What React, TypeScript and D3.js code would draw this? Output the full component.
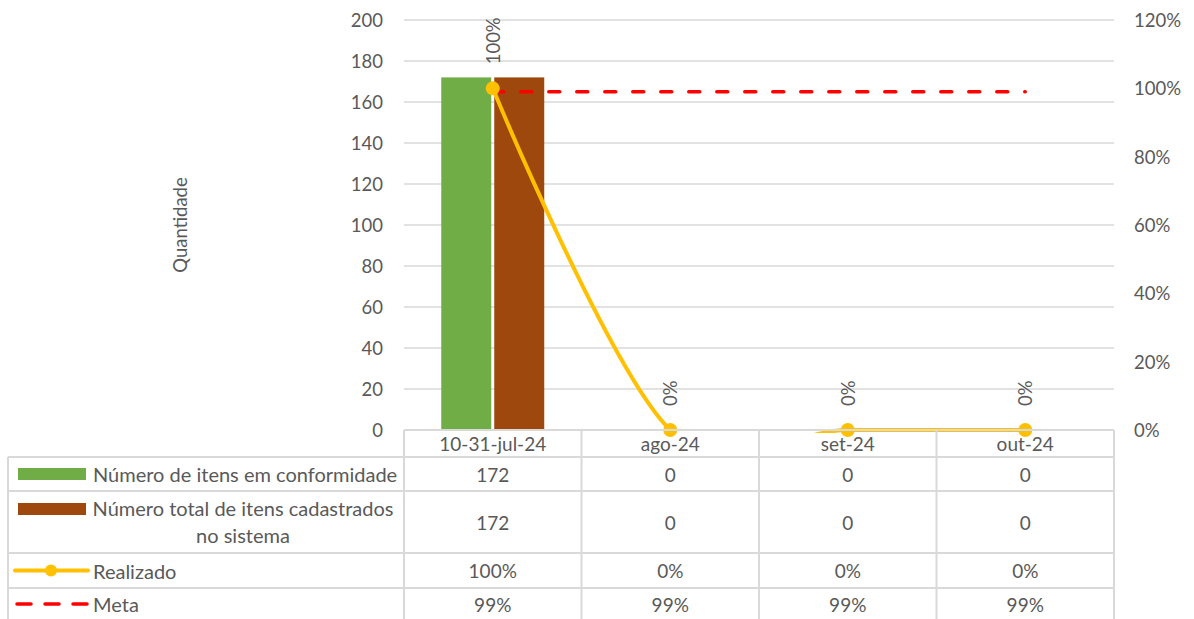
import React from 'react';
import * as d3 from 'd3';

const categories = ['10-31-jul-24', 'ago-24', 'set-24', 'out-24'];
const conformidade = [172, 0, 0, 0];
const totalCadastrados = [172, 0, 0, 0];
const realizado = [1, 0, 0, 0];
const meta = [0.99, 0.99, 0.99, 0.99];
const leftTicks = [0, 20, 40, 60, 80, 100, 120, 140, 160, 180, 200];
const rightTicks = [0, 0.2, 0.4, 0.6, 0.8, 1.0, 1.2];
const seriesNames = ['Número de itens em conformidade', 'Número total de itens cadastrados no sistema', 'Realizado', 'Meta'];

const W = 1194;
const H = 619;
const P = { left: 404, right: 1114, top: 20, bottom: 430 };
const FONT = 'Lato, "Open Sans", sans-serif';
const TXT = '#595959';
const GRID = '#D9D9D9';
const GREEN = '#70AD47';
const BROWN = '#9E480E';
const YELLOW = '#FFC000';
const RED = '#FF0000';

// table row boundaries
const rowY = [430, 457, 491, 553, 588, 624];
const tableLeft = 8;

export default function App() {
  const x0 = d3.scaleBand<string>().domain(categories).range([P.left, P.right]);
  const x1 = d3.scaleBand<string>().domain(['a', 'b']).range([0, x0.bandwidth()]).paddingInner(0.0566).paddingOuter(0.703);
  const yL = d3.scaleLinear().domain([0, 200]).range([P.bottom, P.top]);
  const yR = d3.scaleLinear().domain([0, 1.2]).range([P.bottom, P.top]);
  const cx = (c: string) => (x0(c) as number) + x0.bandwidth() / 2;

  const linePts: [number, number][] = categories.map((c, i) => [cx(c), yR(realizado[i])]);
  const lineGen = d3.line().curve(d3.curveCardinal.tension(0));
  const realPath = lineGen(linePts) as string;
  const metaPath = d3.line()(categories.map((c, i) => [cx(c), yR(meta[i])] as [number, number])) as string;
  const pct = d3.format('.0%');

  const rowMid = (r: number) => (rowY[r] + rowY[r + 1]) / 2;
  const fsAxis = 18.5;
  const fsTable = 19;
  const fsLegend = 20;

  return (
    <svg width={W} height={H} style={{ position: 'absolute', left: 0, top: 0 }} fontFamily={FONT}>
      <rect width={W} height={H} fill="#fff" />
      <defs>
        <clipPath id="plotClip">
          <rect x={P.left} y={P.top - 10} width={P.right - P.left} height={P.bottom - P.top + 13} />
        </clipPath>
      </defs>
      {/* gridlines */}
      {leftTicks.map((t) => (
        <line key={t} x1={P.left} x2={P.right} y1={yL(t)} y2={yL(t)} stroke={GRID} strokeWidth={1.4} />
      ))}
      {/* left ticks */}
      {leftTicks.map((t) => (
        <text key={'l' + t} x={383} y={yL(t)} textAnchor="end" dominantBaseline="central" fontSize={fsAxis} fill={TXT}>{t}</text>
      ))}
      {rightTicks.map((t) => (
        <text key={'r' + t} x={1134} y={yR(t)} textAnchor="start" dominantBaseline="central" fontSize={fsAxis} fill={TXT}>{pct(t)}</text>
      ))}
      <text transform={`translate(180,${(P.top + P.bottom) / 2}) rotate(-90)`} textAnchor="middle" dominantBaseline="central" fontSize={fsAxis} fill={TXT}>Quantidade</text>

      {/* bars */}
      {categories.map((c, i) => (
        <g key={'b' + c}>
          <rect x={(x0(c) as number) + (x1('a') as number)} y={yL(conformidade[i])} width={x1.bandwidth()} height={yL(0) - yL(conformidade[i])} fill={GREEN} />
          <rect x={(x0(c) as number) + (x1('b') as number)} y={yL(totalCadastrados[i])} width={x1.bandwidth()} height={yL(0) - yL(totalCadastrados[i])} fill={BROWN} />
        </g>
      ))}

      {/* meta */}
      <path d={metaPath} fill="none" stroke={RED} strokeWidth={3.5} strokeDasharray="11,17" strokeLinecap="round" />
      {/* realizado */}
      <path d={realPath} fill="none" stroke={YELLOW} strokeWidth={4} strokeLinecap="round" clipPath="url(#plotClip)" />
      {linePts.map(([px, py], i) => (
        <circle key={'m' + i} cx={px} cy={py} r={7} fill={YELLOW} />
      ))}
      {linePts.map(([px, py], i) => (
        <text key={'dl' + i} transform={`translate(${px},${py - 24}) rotate(-90)`} textAnchor="start" dominantBaseline="central" fontSize={fsAxis} fill={TXT}>{pct(realizado[i])}</text>
      ))}

      {/* data table */}
      <g stroke={GRID} strokeWidth={2}>
        <line x1={P.left} x2={P.right} y1={rowY[0]} y2={rowY[0]} />
        {rowY.slice(1).map((y, i) => (
          <line key={'h' + i} x1={tableLeft} x2={P.right} y1={y} y2={y} />
        ))}
        <line x1={tableLeft} x2={tableLeft} y1={rowY[1]} y2={H} />
        {categories.map((c) => (
          <line key={'v' + c} x1={x0(c)} x2={x0(c)} y1={rowY[0]} y2={H} />
        ))}
        <line x1={P.right} x2={P.right} y1={rowY[0]} y2={H} />
      </g>
      {categories.map((c, i) => (
        <g key={'t' + c} fontSize={fsTable} fill={TXT} textAnchor="middle" dominantBaseline="central">
          <text x={cx(c)} y={rowMid(0)}>{c}</text>
          <text x={cx(c)} y={rowMid(1)}>{conformidade[i]}</text>
          <text x={cx(c)} y={rowMid(2)}>{totalCadastrados[i]}</text>
          <text x={cx(c)} y={rowMid(3)}>{pct(realizado[i])}</text>
          <text x={cx(c)} y={rowMid(4) - 2}>{pct(meta[i])}</text>
        </g>
      ))}
      {/* legend keys */}
      <rect x={18} y={rowMid(1) - 6} width={68} height={12} fill={GREEN} />
      <rect x={18} y={503} width={68} height={12} fill={BROWN} />
      <line x1={15} x2={88} y1={rowMid(3)} y2={rowMid(3)} stroke={YELLOW} strokeWidth={4} strokeLinecap="round" />
      <circle cx={51} cy={rowMid(3)} r={6} fill={YELLOW} />
      <line x1={17} x2={88} y1={604} y2={604} stroke={RED} strokeWidth={3.5} strokeDasharray="14,14" strokeLinecap="round" />
      <g fontSize={fsLegend} fill={TXT} dominantBaseline="central">
        <text x={93} y={rowMid(1)}>{seriesNames[0]}</text>
        <text x={243} y={508} textAnchor="middle">Número total de itens cadastrados</text>
        <text x={243} y={535} textAnchor="middle">no sistema</text>
        <text x={93} y={rowMid(3)}>{seriesNames[2]}</text>
        <text x={93} y={604}>{seriesNames[3]}</text>
      </g>
    </svg>
  );
}
